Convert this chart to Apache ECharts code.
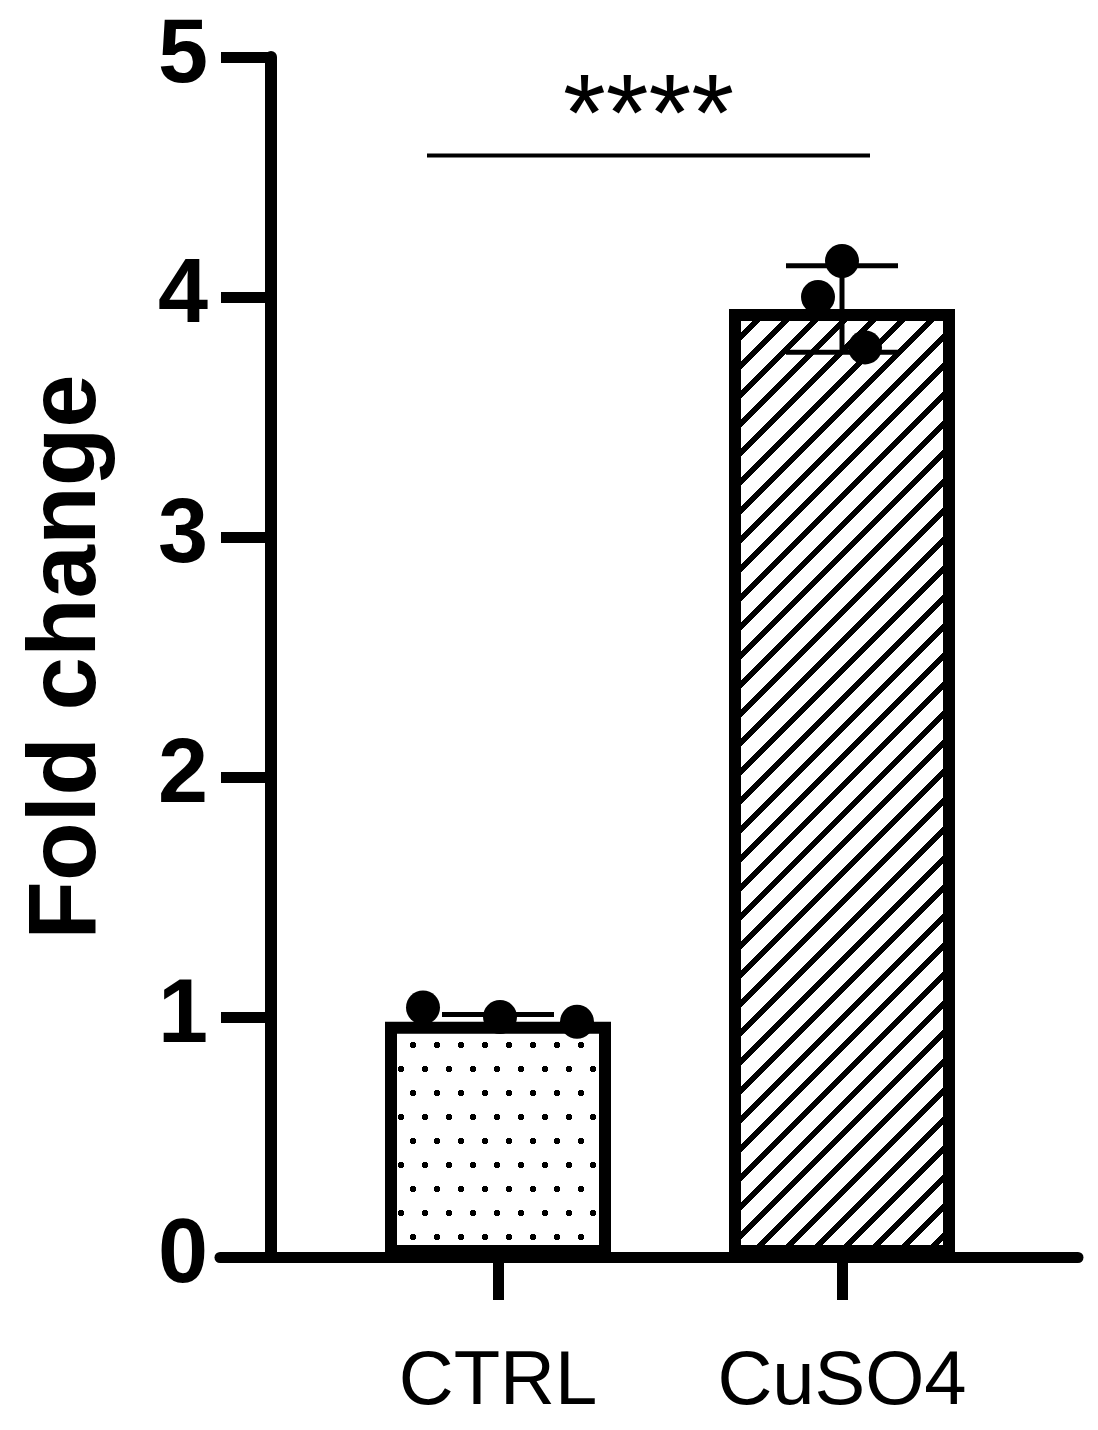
<!DOCTYPE html>
<html>
<head>
<meta charset="utf-8">
<script src="https://cdn.jsdelivr.net/npm/echarts@6/dist/echarts.min.js"></script>
<style>
  html, body { margin: 0; padding: 0; background: #fff; }
  #chart { width: 1098px; height: 1430px; }
</style>
</head>
<body>
<div id="chart"></div>
<script>
// data
const categories = ["CTRL", "CuSO4"];
const meanValues = [0.98, 3.95];
const sdValues = [0.03, 0.18];
const ctrlReplicates = [1.04, 1.0, 0.98];
const cuso4Replicates = [4.15, 4.0, 3.79];
const yMin = 0;
const yMax = 5;
const yStep = 1;
const sigLevel = 4.59;
const sigText = "****";

// horizontal jitter of the replicate dots (px), one row per group
const jitterPx = [
  [-75, 2, 79],
  [0, -24, 23],
];

const FONT = "'Liberation Sans', Arial, Helvetica, sans-serif";

// fill patterns (drawn pixel by pixel so tiles join without seams)
function makeTile(w, h, isInk) {
  let c = document.createElement("canvas");
  c.width = w;
  c.height = h;
  let ctx = c.getContext("2d");
  let img = ctx.createImageData(w, h);
  for (let y = 0; y < h; y++) {
    for (let x = 0; x < w; x++) {
      let k = (y * w + x) * 4;
      let v = isInk(x, y) ? 0 : 255;
      img.data[k] = v;
      img.data[k + 1] = v;
      img.data[k + 2] = v;
      img.data[k + 3] = 255;
    }
  }
  ctx.putImageData(img, 0, 0);
  return c;
}

function dotPattern() {
  let dots = [[5, 37], [17, 13]];
  return makeTile(24, 48, function (x, y) {
    return dots.some(function (d) {
      let dx = x + 0.5 - d[0];
      let dy = y + 0.5 - d[1];
      return dx * dx + dy * dy <= 9;
    });
  });
}

function hatchPattern() {
  let s = 29;
  return makeTile(s, s, function (x, y) {
    return (x + y) % s < 8;
  });
}

const fills = [
  { image: dotPattern(), repeat: "repeat" },
  { image: hatchPattern(), repeat: "repeat" },
];

let barData = [];
let errData = [];
for (let i = 0; i < categories.length; i++) {
  barData.push({ value: meanValues[i], itemStyle: { color: fills[i] } });
  errData.push([i, meanValues[i], sdValues[i]]);
}

let dotData = [];
[ctrlReplicates, cuso4Replicates].forEach(function (reps, g) {
  reps.forEach(function (v, r) {
    dotData.push([g, v, r]);
  });
});

let chart = echarts.init(document.getElementById("chart"));

let option = {
  animation: false,
  backgroundColor: "#fff",
  grid: [
    { left: 326, right: 84, top: 57, bottom: 173 },
    { left: 220, right: 20, top: 57, bottom: 173 },
  ],
  xAxis: [
    {
      type: "category",
      gridIndex: 0,
      data: categories,
      axisLine: { show: false },
      axisTick: {
        show: true,
        alignWithLabel: true,
        length: 43,
        lineStyle: { color: "#000", width: 11 },
      },
      axisLabel: {
        color: "#000",
        fontSize: 76,
        fontFamily: FONT,
        margin: 88,
      },
    },
    {
      type: "value",
      gridIndex: 1,
      min: 0,
      max: 1,
      axisLine: { show: true, lineStyle: { color: "#000", width: 11 } },
      axisTick: { show: false },
      axisLabel: { show: false },
      splitLine: { show: false },
    },
  ],
  yAxis: [
    {
      type: "value",
      gridIndex: 0,
      min: yMin,
      max: yMax,
      interval: yStep,
      offset: 55,
      name: "Fold change",
      nameLocation: "middle",
      nameGap: 154,
      nameTextStyle: {
        color: "#000",
        fontSize: 96,
        fontWeight: "bold",
        fontFamily: FONT,
      },
      axisLine: { show: true, lineStyle: { color: "#000", width: 12 } },
      axisTick: { show: true, length: 50, lineStyle: { color: "#000", width: 11 } },
      axisLabel: {
        color: "#000",
        fontSize: 90,
        fontWeight: "bold",
        fontFamily: FONT,
        margin: 63,
      },
      splitLine: { show: false },
    },
    {
      type: "value",
      gridIndex: 1,
      min: yMin,
      max: yMax,
      show: false,
    },
  ],
  series: [
    {
      name: "mean",
      type: "bar",
      xAxisIndex: 0,
      yAxisIndex: 0,
      barWidth: 226,
      itemStyle: { borderColor: "#000", borderWidth: 12 },
      data: barData,
      z: 2,
    },
    {
      name: "sd",
      type: "custom",
      xAxisIndex: 0,
      yAxisIndex: 0,
      z: 3,
      renderItem: function (params, api) {
        let idx = api.value(0);
        let m = api.value(1);
        let sd = api.value(2);
        let hi = api.coord([idx, m + sd]);
        let lo = api.coord([idx, m - sd]);
        let half = 56;
        let st = { stroke: "#000", lineWidth: 5 };
        return {
          type: "group",
          children: [
            { type: "line", shape: { x1: hi[0], y1: hi[1], x2: lo[0], y2: lo[1] }, style: st },
            { type: "line", shape: { x1: hi[0] - half, y1: hi[1], x2: hi[0] + half, y2: hi[1] }, style: st },
            { type: "line", shape: { x1: lo[0] - half, y1: lo[1], x2: lo[0] + half, y2: lo[1] }, style: st },
          ],
        };
      },
      data: errData,
    },
    {
      name: "replicates",
      type: "custom",
      xAxisIndex: 0,
      yAxisIndex: 0,
      z: 4,
      renderItem: function (params, api) {
        let g = api.value(0);
        let r = api.value(2);
        let p = api.coord([g, api.value(1)]);
        return {
          type: "circle",
          shape: { cx: p[0] + jitterPx[g][r], cy: p[1], r: 17 },
          style: { fill: "#000" },
        };
      },
      data: dotData,
    },
    {
      name: "significance",
      type: "custom",
      xAxisIndex: 0,
      yAxisIndex: 0,
      z: 4,
      renderItem: function (params, api) {
        let a = api.coord([api.value(0), api.value(2)]);
        let b = api.coord([api.value(1), api.value(2)]);
        let x1 = a[0] - 71;
        let x2 = b[0] + 28;
        return {
          type: "group",
          children: [
            {
              type: "line",
              shape: { x1: x1, y1: a[1], x2: x2, y2: a[1] },
              style: { stroke: "#000", lineWidth: 4 },
            },
            {
              type: "text",
              style: {
                x: (x1 + x2) / 2,
                y: a[1] - 36,
                text: sigText,
                fill: "#000",
                font: "110px " + FONT,
                align: "center",
                verticalAlign: "middle",
              },
            },
          ],
        };
      },
      data: [[0, 1, sigLevel]],
    },
  ],
};

chart.setOption(option);
</script>
</body>
</html>
